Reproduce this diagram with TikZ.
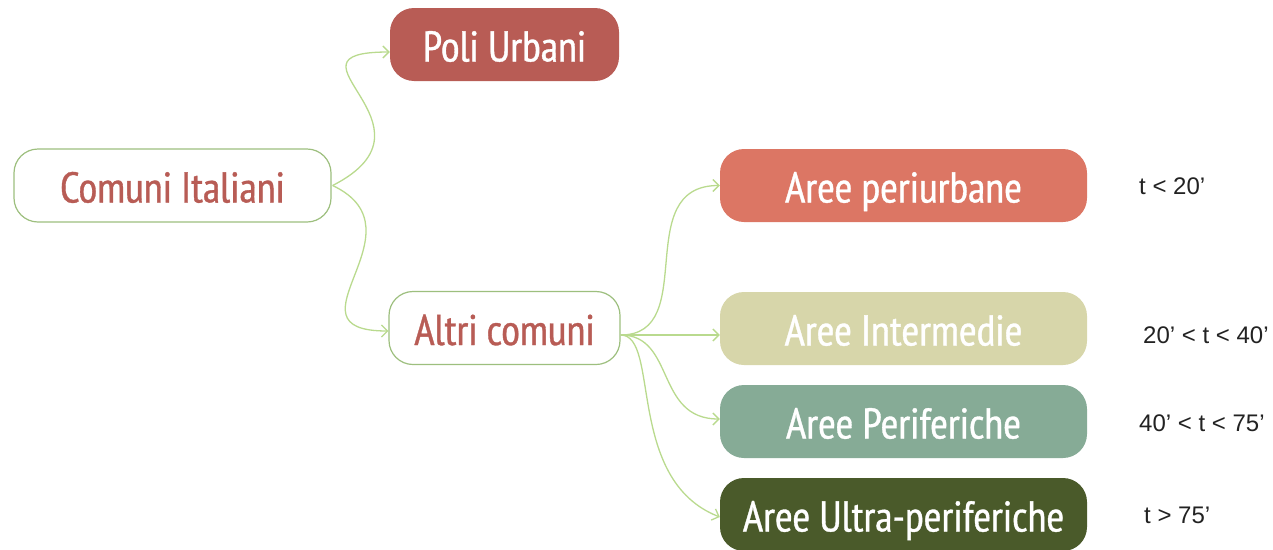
\documentclass[tikz,border=0pt]{standalone}
\usepackage{fontspec}
\setmainfont{Liberation Sans}
\newfontfamily\boxfont[FakeBold=0.8]{PT Sans Narrow}
\usetikzlibrary{arrows.meta,calc}
\definecolor{rosso}{HTML}{B85C55}
\definecolor{salmone}{HTML}{DC7664}
\definecolor{sabbia}{HTML}{D7D6AA}
\definecolor{salvia}{HTML}{86AB96}
\definecolor{oliva}{HTML}{4A5A2A}
\definecolor{bordo}{HTML}{9DBF7E}
\definecolor{ramo}{HTML}{B9DA8E}
\definecolor{testo}{HTML}{222222}
\tikzset{
  box/.style={rounded corners=24pt, minimum height=73pt, inner sep=0pt,
    font=\boxfont\fontsize{43}{43}\selectfont, text height=34pt, text depth=0pt},
  outline/.style={box, draw=bordo, line width=1.2pt, fill=white, text=rosso},
  solid box/.style={box, draw=none, text=white},
  link/.style={draw=ramo, line width=1.3pt, -{Straight Barb[length=6pt,width=12pt]}},
  soglia/.style={anchor=base west, inner sep=0pt, text=testo,
    font=\fontsize{24}{24}\selectfont}
}
\begin{document}
\begin{tikzpicture}[x=1pt,y=-1pt]
\useasboundingbox (0,0) rectangle (1273,549);
\clip (0,0) rectangle (1273,549);

% first level
\node[outline, minimum width=317pt] (comuni) at (172.5,185.5) {Comuni Italiani};
\node[solid box, fill=rosso, minimum width=229pt] (poli) at (504.5,44.5) {Poli Urbani};
\node[outline, minimum width=231pt] (altri) at (504.5,328) {Altri comuni};

% second level
\node[solid box, fill=salmone, minimum width=367pt] (peri) at (903.5,185.5) {Aree periurbane};
\node[solid box, fill=sabbia, minimum width=367pt] (inter) at (903.5,328.5) {Aree Intermedie};
\node[solid box, fill=salvia, minimum width=367pt] (perif) at (903.5,421.5) {Aree Periferiche};
\node[solid box, fill=oliva, minimum width=367pt] (ultra) at (903.5,514.5) {Aree Ultra-periferiche};

% travel-time thresholds
\node[soglia] (s1) at (1139,194) {t < 20’};
\node[soglia] (s2) at (1143,343) {20’ < t < 40’};
\node[soglia] (s3) at (1139,431) {40’ < t < 75’};
\node[soglia] (s4) at (1144,523) {t > 75’};

% branch anchor points
\coordinate (cstart) at ($(comuni.east)+(1,0)$);
\coordinate (astart) at ($(altri.east)+(0,7)$);
\coordinate (poliin) at ($(poli.west)+(0,7.5)$);
\coordinate (altriin) at ($(altri.west)+(0,3)$);
\coordinate (interin) at ($(inter.west)+(0,6.5)$);
\coordinate (perifin) at ($(perif.west)+(0,-2.5)$);
\coordinate (ultrain) at ($(ultra.west)+(0,2.5)$);

% connectors
\draw[link] (cstart) .. controls +(118,-60) and +(-120,0) .. (poliin);
\draw[link] (cstart) .. controls +(95,45) and +(-110,0) .. (altriin);
\draw[link] (astart) .. controls +(80,0) and +(-90,0) .. (peri.west);
\draw[link] (astart) -- (interin);
\draw[link] (astart) .. controls +(55,0) and +(-65,0) .. (perifin);
\draw[link] (astart) .. controls +(40,0) and +(-95,-37) .. (ultrain);
\end{tikzpicture}
\end{document}
